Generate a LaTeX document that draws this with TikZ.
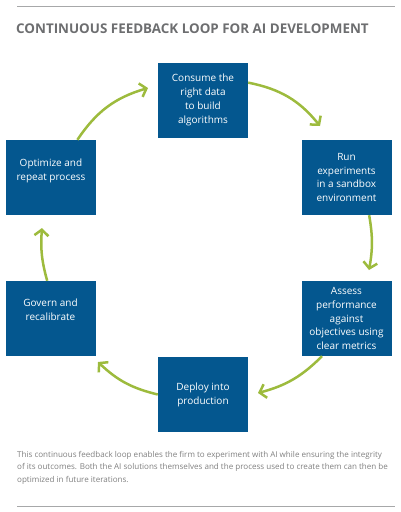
\documentclass[tikz,border=0pt]{standalone}
\usepackage{fontspec}
\setmainfont{Open Sans}
\usetikzlibrary{arrows.meta}

\definecolor{stageblue}{HTML}{04578F}
\definecolor{loopgreen}{HTML}{9DBB3D}
\definecolor{titlegray}{HTML}{6D6E70}
\definecolor{notegray}{HTML}{808080}

\begin{document}
\begin{tikzpicture}[x=1pt,y=-1pt,
    stage/.style={rectangle, fill=stageblue, text=white, inner sep=0pt,
                  minimum width=90pt, minimum height=75pt, align=center,
                  font=\fontsize{10}{13.8}\selectfont},
    loop/.style={draw=loopgreen, line width=2.5pt,
                 -{Straight Barb[length=6pt,width=14pt]}}]

\useasboundingbox (0,0) rectangle (400,512);

% rules and title
\draw[titlegray!60, line width=1pt] (17,6) -- (395,6);
\draw[titlegray!60, line width=1pt] (17,506) -- (395,506);
\node (title) [anchor=base west, inner sep=0pt, text=titlegray,
               font=\fontsize{13.4}{15}\selectfont\bfseries] at (16,33.5)
      {CONTINUOUS FEEDBACK LOOP FOR AI DEVELOPMENT};

% the six stages
\node (consume)  [stage] at (203,100)   {Consume the\\right data\\to build\\algorithms};
\node (run)      [stage] at (346.5,177.5) {Run\\experiments\\in a sandbox\\environment};
\node (assess)   [stage] at (346.5,318.5) {Assess\\performance\\against\\objectives using\\clear metrics};
\node (deploy)   [stage] at (203,394.5) {Deploy into\\production};
\node (govern)   [stage] at (50.5,318.5)  {Govern and\\recalibrate\\[4pt]};
\node (optimize) [stage] at (51,177.5)  {Optimize and\\repeat process\\[2pt]};

% arrow tips
\coordinate (tip_1) at (320,126);
\coordinate (tip_2) at (369,270);
\coordinate (tip_3) at (258,393);
\coordinate (tip_4) at (98,362);
\coordinate (tip_5) at (42,228);
\coordinate (tip_6) at (148,88);

\draw[loop] (consume.21)   to[bend left=20] (tip_1);
\draw[loop] (run.-59)      to[bend left=10] (tip_2);
\draw[loop] (assess.-123)  to[bend left=15] (tip_3);
\draw[loop] (deploy.west)  to[bend left=15] (tip_4);
\draw[loop] (govern.95)    to[bend left=10] (tip_5);
\draw[loop] (optimize.55)  to[bend left=20] (tip_6);

% note
\node (note) [anchor=base west, inner sep=0pt, align=left, text=notegray,
              font=\fontsize{8.05}{12.5}\selectfont] at (17,482)
      {This continuous feedback loop enables the firm to experiment with AI while ensuring the integrity\\
       of its outcomes. Both the AI solutions themselves and the process used to create them can then be\\
       optimized in future iterations.};
\end{tikzpicture}
\end{document}
